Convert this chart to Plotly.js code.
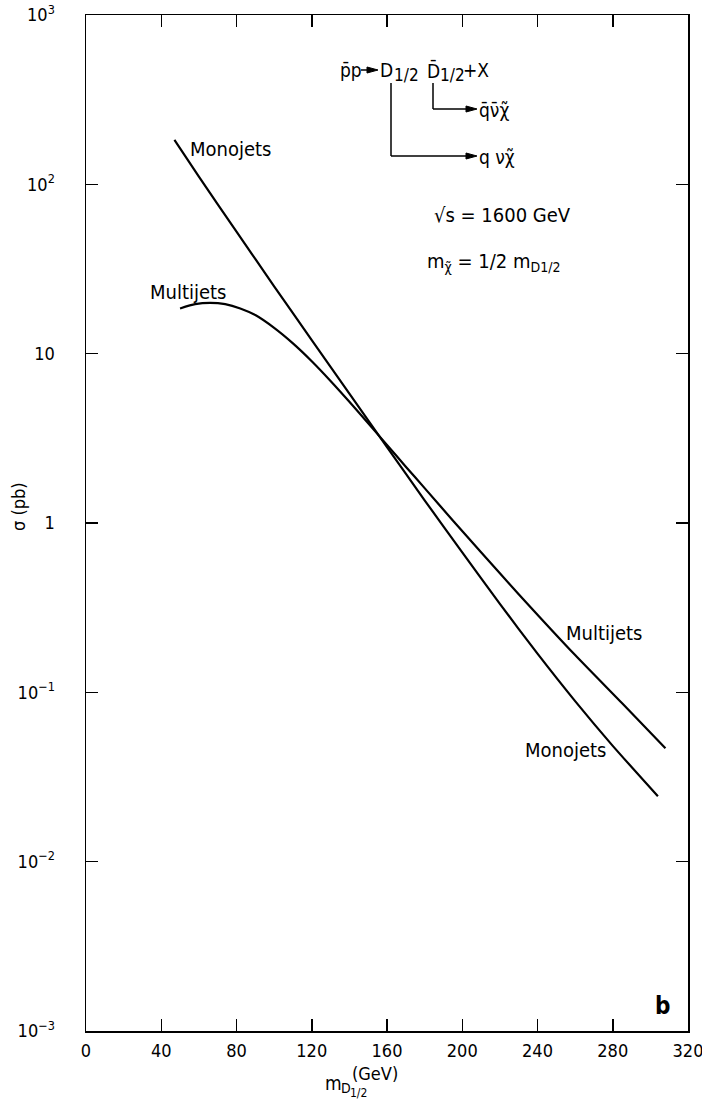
<!DOCTYPE html>
<html>
<head>
<meta charset="utf-8">
<script src="https://cdn.plot.ly/plotly-3.0.1.min.js"></script>
<style>body{margin:0;padding:0;background:#fff}</style>
</head>
<body>
<div id="chart" style="width:702px;height:1099px"></div>
<script>
// ---- data ----
const monoX = [47, 60, 80, 100, 120, 140, 160, 180, 200, 220, 240, 260, 280, 304];
const monoY = [182.8, 111.2, 52.5, 25.0, 12.03, 5.81, 2.806, 1.362, 0.670, 0.333, 0.1691, 0.0887, 0.0483, 0.02435];
const multiX = [50, 58, 66, 74, 82, 90, 100, 110, 120, 130, 140, 150, 160, 170, 180, 195, 210, 230, 260, 285, 308];
const multiY = [18.5, 19.6, 19.95, 19.6, 18.5, 16.9, 14.2, 11.5, 9.02, 6.90, 5.20, 3.88, 2.89, 2.15, 1.607, 1.035, 0.671, 0.380, 0.166, 0.0861, 0.0468];
const xTickVals = [0, 40, 80, 120, 160, 200, 240, 280, 320];
const xTickText = ["0", "40", "80", "120", "160", "200", "240", "280", "320"];
const yTickVals = [0.001, 0.01, 0.1, 1, 10, 100, 1000];
const yTickText = ["10<sup>\u22123</sup>", "10<sup>\u22122</sup>", "10<sup>\u22121</sup>", "1", "10", "10<sup>2</sup>", "10<sup>3</sup>"];

const FONT = '"DejaVu Sans Condensed", "Liberation Sans Narrow", "DejaVu Sans", sans-serif';
const W = 702, H = 1099;
const L = 86, R = 688, T = 15, B = 1031;
const px = x => (x - L) / (R - L);
const py = y => (B - y) / (B - T);

const line = {color: '#000', width: 2.2, shape: 'spline', smoothing: 0.6};
const traces = [
  {x: monoX, y: monoY, mode: 'lines', line: line, name: 'Monojets', hoverinfo: 'x+y'},
  {x: multiX, y: multiY, mode: 'lines', line: line, name: 'Multijets', hoverinfo: 'x+y'}
];

function txt(text, x, y, size, extra) {
  return Object.assign({text: text, xref: 'paper', yref: 'paper', x: px(x), y: py(y),
    showarrow: false, font: {family: FONT, size: size, color: '#000'},
    xanchor: 'left', yanchor: 'middle', borderpad: 0}, extra || {});
}

const annotations = [
  txt('Monojets', 189, 149, 20),
  txt('Multijets', 149, 292, 20),
  txt('Multijets', 565, 633, 20),
  txt('Monojets', 524, 750, 20),
  txt('<b>b</b>', 662, 1006, 24, {xanchor: 'center'}),
  // reaction formula
  txt('p\u0304p', 339, 70, 19),
  txt('D', 379, 70, 19),
  txt('1/2', 393, 75, 17),
  txt('D\u0304', 426, 70, 19),
  txt('1/2', 439, 75, 17),
  txt('+X', 462, 70, 19),
  txt('q\u0304\u03bd\u0304\u03c7\u0303', 478, 110, 19),
  txt('q \u03bd\u03c7\u0303', 478, 157, 19),
  txt('\u221as = 1600 GeV', 433, 215, 20),
  txt('m<sub>\u03c7\u0303</sub> = 1/2 m<sub>D1/2</sub>', 426, 262, 20),
  // axis titles
  txt('\u03c3 (pb)', 18, 507, 18, {xanchor: 'center', textangle: -90}),
  txt('m', 324, 1083, 19),
  txt('D', 340, 1088, 14),
  txt('1/2', 349, 1093, 12),
  txt('(GeV)', 351, 1073, 18)
];

const shp = (x0, y0, x1, y1) => ({type: 'line', xref: 'paper', yref: 'paper',
  x0: px(x0), y0: py(y0), x1: px(x1), y1: py(y1), line: {color: '#000', width: 1.5}});
const tri = (x, y) => ({type: 'path', xref: 'paper', yref: 'paper',
  path: 'M' + px(x) + ',' + py(y) + ' L' + px(x - 11) + ',' + py(y - 3) + ' L' + px(x - 11) + ',' + py(y + 3) + ' Z',
  fillcolor: '#000', line: {color: '#000', width: 1}});
const shapes = [
  shp(361, 70, 370, 70), tri(378, 70),
  shp(433, 83, 433, 109), shp(433, 109, 467, 109), tri(477, 109),
  shp(391, 83, 391, 156), shp(391, 156, 467, 156), tri(477, 156)
];

const axisCommon = {
  showline: true, linecolor: '#000', linewidth: 1.5, mirror: 'ticks',
  ticks: 'inside', ticklen: 12, tickwidth: 1.5, tickcolor: '#000',
  showgrid: false, zeroline: false,
  tickfont: {family: FONT, size: 18, color: '#000'}
};

const layout = {
  width: W, height: H,
  margin: {l: L, r: W - R, t: T, b: H - B},
  paper_bgcolor: '#fff', plot_bgcolor: '#fff',
  showlegend: false,
  xaxis: Object.assign({}, axisCommon, {
    range: [0, 320], tickmode: 'array', tickvals: xTickVals, ticktext: xTickText,
    ticklabelstandoff: 3, ticklabeloverflow: 'allow'
  }),
  yaxis: Object.assign({}, axisCommon, {
    type: 'log', range: [-3, 3], tickmode: 'array', tickvals: yTickVals, ticktext: yTickText,
    ticklabelstandoff: 26
  }),
  annotations: annotations,
  shapes: shapes
};

Plotly.newPlot('chart', traces, layout, {displayModeBar: false, staticPlot: true});
</script>
</body>
</html>
